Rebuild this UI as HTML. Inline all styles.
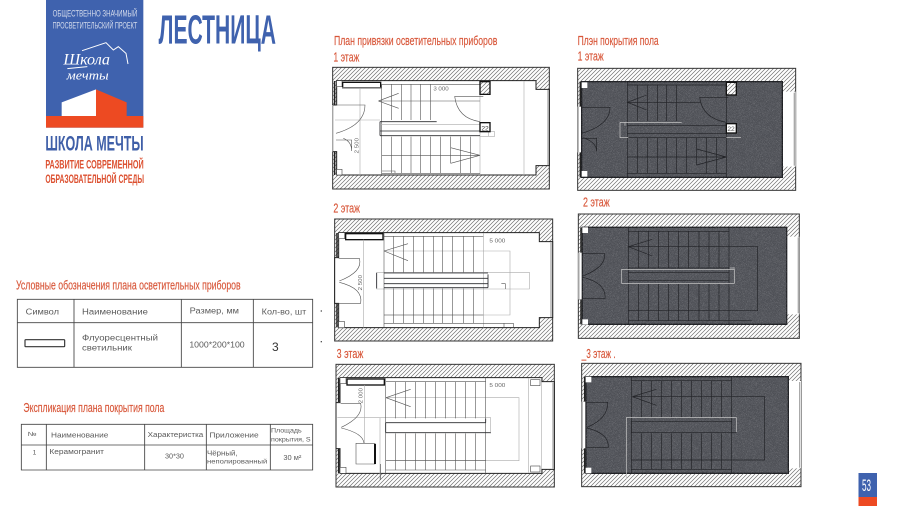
<!DOCTYPE html>
<html lang="ru">
<head>
<meta charset="utf-8">
<title>Лестница</title>
<style>
html,body{margin:0;padding:0;background:#fff;width:900px;height:506px;overflow:hidden}
svg{display:block;filter:blur(.3px)}
text{font-family:"Liberation Sans",sans-serif}
.o{fill:#d8573a;stroke:#d8573a;stroke-width:.5}
.t{fill:#5a5a5a}
.th{fill:none;stroke:#444;stroke-width:2.6}
.tn{fill:none;stroke:#555;stroke-width:1.8}
.g{fill:none;stroke:#aaa;stroke-width:1.8}
.d{fill:none;stroke:#2a2b2f;stroke-width:2.6}
.dk{fill:none;stroke:#222;stroke-width:4.5}
.w{fill:#fff;stroke:#444;stroke-width:1.8}
.fl{fill:none;stroke:#222327;stroke-width:2}
.fg{fill:none;stroke:#c4c4c4;stroke-width:2.2}
</style>
</head>
<body>
<svg width="900" height="506" viewBox="0 0 900 506" xmlns="http://www.w3.org/2000/svg">
<defs>
<pattern id="h" patternUnits="userSpaceOnUse" width="12" height="12">
<rect width="12" height="12" fill="#fff"/>
<path d="M-2,14 L14,-2 M-2,2 L2,-2 M10,14 L14,10" stroke="#6e6e6e" stroke-width="2"/>
</pattern>
<filter id="sp" x="0" y="0" width="100%" height="100%">
<feTurbulence type="fractalNoise" baseFrequency="1.1" numOctaves="2" seed="4"/>
<feColorMatrix values="0 0 0 0 .75 0 0 0 0 .75 0 0 0 0 .78 1.6 0 0 0 -.72"/>
</filter>
</defs>

<!-- logo -->
<g transform="scale(.33333)">
<rect x="138" y="0" width="292" height="383" fill="#3f62ae"/>
<text x="158" y="50" font-size="27" fill="#d5dcec" textLength="254" lengthAdjust="spacingAndGlyphs">ОБЩЕСТВЕННО ЗНАЧИМЫЙ</text>
<text x="158" y="86" font-size="27" fill="#d5dcec" textLength="254" lengthAdjust="spacingAndGlyphs">ПРОСВЕТИТЕЛЬСКИЙ ПРОЕКТ</text>
<text x="190" y="194" font-size="46" fill="#fff" font-style="italic" style="font-family:'Liberation Serif',serif" textLength="140" lengthAdjust="spacingAndGlyphs">Школа</text>
<text x="200" y="238" font-size="38" fill="#fff" font-style="italic" style="font-family:'Liberation Serif',serif" textLength="126" lengthAdjust="spacingAndGlyphs">мечты</text>
<path d="M246,152 L318,128 L340,150 L355,140 L378,160 L384,192" fill="none" stroke="#fff" stroke-width="3"/>
<path d="M202,206 L262,200" fill="none" stroke="#fff" stroke-width="3"/>
<path d="M185,307 L288,268 L288,348 L185,348Z" fill="#fff"/>
<path d="M288,268 L380,307 L380,348 L430,348 L430,383 L138,383 L138,348 L288,348Z" fill="#ed4a22"/>
<text x="136" y="452" font-size="64" font-weight="bold" fill="#3f5fa8" textLength="295" lengthAdjust="spacingAndGlyphs">ШКОЛА МЕЧТЫ</text>
<text x="136" y="506" font-size="35" font-weight="bold" fill="#dc5030" textLength="295" lengthAdjust="spacingAndGlyphs">РАЗВИТИЕ СОВРЕМЕННОЙ</text>
<text x="136" y="549" font-size="35" font-weight="bold" fill="#dc5030" textLength="296" lengthAdjust="spacingAndGlyphs">ОБРАЗОВАТЕЛЬНОЙ СРЕДЫ</text>
<text x="476" y="130" font-size="122" font-weight="bold" fill="#3f62ae" textLength="352" lengthAdjust="spacingAndGlyphs">ЛЕСТНИЦА</text>
</g>

<!-- plan 1 wire -->
<g transform="translate(320,25) scale(.33333)">
<text class="o" x="42" y="60" font-size="40" textLength="490" lengthAdjust="spacingAndGlyphs">План привязки осветительных приборов</text>
<text class="o" x="40" y="110" font-size="40" textLength="78" lengthAdjust="spacingAndGlyphs">1 этаж</text>
<rect x="38" y="127" width="650" height="365" fill="url(#h)" stroke="#333" stroke-width="3"/>
<path d="M50,167H648V193H688V422H648V450H50V380H38V240H50Z" fill="#fff" stroke="#222" stroke-width="3"/>
<path d="M38,240V380" stroke="#bbb" stroke-width="3"/>
<path d="M684,195V420" stroke="#aaa" stroke-width="4"/>
<path class="dk" d="M44,168V240M44,380V450"/>
<rect class="w" x="50" y="167" width="16" height="18"/><rect class="w" x="50" y="433" width="16" height="17"/>
<rect x="68" y="172" width="114" height="16" fill="#fff" stroke="#111" stroke-width="4"/>
<path class="g" d="M612,168V450M480,168V450M120,188V450M66,188H182M45,285H180"/>
<path class="tn" d="M185,178H480M215,178V285M244,178V285M273,178V285M302,178V285M331,178V285M185,178V450M175,228H480M175,228L236,205M175,228L236,250"/>
<path class="d" d="M180,290H350M180,318H480M180,332H480M180,290V332"/>
<path class="g" d="M185,298H480M480,320H524V334H480M505,320V334"/>
<path class="tn" d="M215,335V445M244,335V445M273,335V445M302,335V445M331,335V445M362,335V445M392,335V415M421,335V445M452,335V445M185,391H480M185,445H480M480,391L392,368M480,391L392,415M185,438H225V445"/>
<path class="tn" d="M404,214H490M404,214Q412,280 480,290M48,240H135Q135,300 48,325M48,345H95V378Q95,350 70,340"/>
<rect x="480" y="170" width="30" height="38" fill="url(#h)" stroke="#111" stroke-width="4"/>
<rect x="480" y="293" width="30" height="27" fill="#fff" stroke="#111" stroke-width="4"/>
<text x="484" y="316" font-size="20" fill="#333">22</text>
<text x="340" y="197" font-size="17" fill="#666" textLength="46" lengthAdjust="spacingAndGlyphs">3 000</text>
<text transform="translate(116,385) rotate(-90)" font-size="17" fill="#666" textLength="46" lengthAdjust="spacingAndGlyphs">2 500</text>
</g>

<!-- floor 1 -->
<g transform="translate(565,25) scale(.33333)">
<text class="o" x="38" y="60" font-size="40" textLength="243" lengthAdjust="spacingAndGlyphs">Плэн покрытия пола</text>
<text class="o" x="38" y="106" font-size="40" textLength="78" lengthAdjust="spacingAndGlyphs">1 этаж</text>
<rect x="38" y="130" width="654" height="366" fill="url(#h)" stroke="#333" stroke-width="3"/>
<path d="M652,200H692V425H652Z" fill="#fff"/><path d="M38,245H50V382H38Z" fill="#fff"/>
<path d="M40,245V382" stroke="#bbb" stroke-width="4"/><path d="M688,203V422" stroke="#aaa" stroke-width="4"/>
<path d="M50,170H652V457H50Z" fill="#4e5056" stroke="#1d1e22" stroke-width="4"/>
<rect x="50" y="170" width="602" height="287" filter="url(#sp)" opacity=".45"/>
<path class="dk" d="M46,170V245M46,382V457"/>
<rect x="50" y="172" width="17" height="17" fill="#fff"/><rect x="50" y="438" width="17" height="17" fill="#fff"/>
<path class="fl" d="M187,180H484M217,180V288M247,180V288M277,180V288M305,180V288M334,180V288M187,170V457M484,170V457M187,232H406M187,232L245,210M187,232L245,255"/>
<path class="fl" d="M187,302H484M187,326H484M187,338H484M217,338V445M247,338V445M277,338V445M305,338V445M334,338V445M365,338V445M395,338V420M424,338V445M455,338V445M187,396H484M484,396L395,372M484,396L395,420M187,445H484"/>
<path class="fl" d="M404,217H490M404,217Q412,280 484,292M50,247H135Q135,300 50,325M50,340H95V380Q95,352 55,338"/>
<path class="fg" d="M165,292V338H190M165,292H350M180,292V302M484,338H528"/>
<rect x="484" y="172" width="30" height="38" fill="url(#h)" stroke="#111" stroke-width="4"/>
<rect x="484" y="296" width="30" height="28" fill="#fff" stroke="#111" stroke-width="4"/>
<text x="487" y="318" font-size="20" fill="#555">22</text>
</g>

<!-- plan 2 wire -->
<g transform="translate(320,195) scale(.33333)">
<text class="o" x="40" y="52" font-size="40" textLength="80" lengthAdjust="spacingAndGlyphs">2 этаж</text>
<rect x="44" y="72" width="654" height="366" fill="url(#h)" stroke="#333" stroke-width="3"/>
<path d="M56,113H658V140H698V368H658V398H56V325H44V188H56Z" fill="#fff" stroke="#222" stroke-width="3"/>
<path d="M693,142V366" stroke="#aaa" stroke-width="4"/>
<path class="dk" d="M51,114V186M51,326V397"/>
<rect class="w" x="56" y="113" width="18" height="18"/><rect class="w" x="56" y="380" width="18" height="18"/>
<rect x="77" y="116" width="112" height="18" fill="#fff" stroke="#111" stroke-width="4"/>
<path class="g" d="M130,134V398M170,232H628V282H170Z M490,114V398M192,168H570V360H192"/>
<path class="tn" d="M192,124H490M192,114V398M220,124V232M250,124V232M280,124V232M310,124V232M340,124V232M368,124V232M398,124V232M430,124V232M460,124V232M192,168L264,146M192,168L264,197"/>
<path class="d" d="M192,234H504M192,250H504M192,266H504M192,278H504M170,234V280M504,238V278"/>
<path class="tn" d="M220,280V385M250,280V385M280,280V385M310,280V385M340,280V385M368,280V385M398,280V385M430,280V385M460,280V385M192,360H490M192,385H580V398M552,385V398M544,266H556V282"/>
<path class="tn" d="M56,190H118Q130,230 58,258M58,262Q130,280 122,325H56"/>
<text x="508" y="143" font-size="17" fill="#666" textLength="48" lengthAdjust="spacingAndGlyphs">5 000</text>
<text transform="translate(126,286) rotate(-90)" font-size="17" fill="#666" textLength="46" lengthAdjust="spacingAndGlyphs">2 500</text>
</g>

<!-- floor 2 -->
<g transform="translate(565,190) scale(.33333)">
<text class="o" x="54" y="50" font-size="40" textLength="80" lengthAdjust="spacingAndGlyphs">2 этаж</text>
<rect x="40" y="72" width="663" height="373" fill="url(#h)" stroke="#333" stroke-width="3"/>
<path d="M665,140H703V373H665Z" fill="#fff"/><path d="M40,188H52V328H40Z" fill="#fff"/>
<path d="M42,188V328" stroke="#bbb" stroke-width="4"/><path d="M700,142V370" stroke="#aaa" stroke-width="4"/>
<path d="M52,112H665V403H52Z" fill="#4e5056" stroke="#1d1e22" stroke-width="4"/>
<rect x="52" y="112" width="613" height="291" filter="url(#sp)" opacity=".45"/>
<path class="dk" d="M48,112V188M48,328V403"/>
<rect x="52" y="112" width="17" height="17" fill="#fff"/><rect x="52" y="388" width="17" height="16" fill="#fff"/>
<path class="fl" d="M190,124H492M190,112V403M492,112V403M220,124V234M250,124V234M280,124V234M310,124V234M340,124V234M370,124V234M402,124V234M432,124V234M462,124V234M190,170L262,148M190,170L262,198M190,170H578V362H190"/>
<path class="fl" d="M190,234H492M190,248H492M190,272H492M330,280H420M220,282V392M250,282V392M280,282V392M310,282V392M340,282V392M370,282V392M402,282V392M432,282V392M462,282V392M190,392H560"/>
<path class="fl" d="M52,190H118Q125,230 54,258M54,262Q125,280 120,326H52"/>
<path class="fg" d="M170,238H508V280H170ZM494,234H510"/>
</g>

<!-- plan 3 wire -->
<g transform="translate(320,340) scale(.33333)">
<text class="o" x="50" y="54" font-size="40" textLength="80" lengthAdjust="spacingAndGlyphs">3 этаж</text>
<rect x="48" y="73" width="655" height="368" fill="url(#h)" stroke="#333" stroke-width="3"/>
<path d="M60,113H666V125H703V388H666V400H60V326H48V188H60Z" fill="#fff" stroke="#222" stroke-width="3"/>
<path d="M699,128V386" stroke="#aaa" stroke-width="4"/>
<path class="dk" d="M56,114V186M56,326V399"/>
<rect class="w" x="60" y="113" width="18" height="18"/><rect class="w" x="60" y="382" width="18" height="18"/>
<rect x="81" y="117" width="112" height="18" fill="#fff" stroke="#111" stroke-width="4"/>
<path class="g" d="M134,135V310M52,233H512V280M180,233V420M197,173H597V362H197M626,115V398M664,115V398"/>
<rect class="w" x="632" y="119" width="28" height="18"/><rect class="w" x="632" y="378" width="28" height="18"/>
<path class="tn" d="M197,125H497M197,114V400M497,114V400M226,125V235M256,125V235M286,125V235M316,125V235M346,125V235M376,125V235M406,125V235M436,125V235M466,125V235M198,173L272,148M198,173L272,200"/>
<path class="d" d="M197,248H497M197,278H512M197,248V278M497,236V248"/>
<path class="tn" d="M226,280V390M256,280V390M286,280V390M316,280V390M346,280V390M376,280V390M406,280V390M436,280V390M466,280V390M197,362H497M197,390H497"/>
<path class="tn" d="M62,190H122Q132,230 64,262M64,264Q130,280 132,310M108,310H165V372H108ZM108,310V372"/>
<path d="M165,312V372" stroke="#111" stroke-width="6"/>
<path class="tn" d="M182,372V420"/>
<text x="508" y="141" font-size="17" fill="#666" textLength="48" lengthAdjust="spacingAndGlyphs">5 000</text>
<text transform="translate(128,190) rotate(-90)" font-size="17" fill="#666" textLength="46" lengthAdjust="spacingAndGlyphs">2 000</text>
</g>

<!-- floor 3 -->
<g transform="translate(565,340) scale(.33333)">
<text class="o" x="50" y="54" font-size="40" textLength="102" lengthAdjust="spacingAndGlyphs">_3 этаж .</text>
<rect x="50" y="70" width="658" height="370" fill="url(#h)" stroke="#333" stroke-width="3"/>
<path d="M670,123H708V385H670Z" fill="#fff"/><path d="M50,185H63V325H50Z" fill="#fff"/>
<path d="M52,185V325" stroke="#bbb" stroke-width="4"/><path d="M704,126V383" stroke="#aaa" stroke-width="4"/>
<path d="M63,110H670V400H63Z" fill="#4e5056" stroke="#1d1e22" stroke-width="4"/>
<rect x="63" y="110" width="607" height="290" filter="url(#sp)" opacity=".45"/>
<path class="dk" d="M59,110V185M59,325V400"/>
<rect x="62" y="110" width="17" height="17" fill="#fff"/><rect x="62" y="383" width="17" height="17" fill="#fff"/>
<path class="fl" d="M199,122H500M199,110V400M500,110V400M229,122V232M259,122V232M289,122V232M319,122V232M349,122V232M379,122V232M409,122V232M439,122V232M469,122V232M202,170L274,148M202,170L274,196M202,170H599V360H199"/>
<path class="fl" d="M199,245H500M199,278H514M199,245V278M229,280V388M259,280V388M289,280V388M319,280V388M349,280V388M379,280V388M409,280V388M439,280V388M469,280V388M199,388H500"/>
<path class="fl" d="M65,187H128Q130,235 66,262M66,264Q132,280 130,322H65"/>
<path class="fg" d="M184,418V233H514V276"/>
</g>

<!-- legend tables -->
<g transform="translate(0,270) scale(.33333)">
<text class="o" x="48" y="58" font-size="40" textLength="674" lengthAdjust="spacingAndGlyphs">Условные обозначения плана осветительных приборов</text>
<path class="th" d="M52,88H938V292H52ZM52,158H938M222,88V292M544,88V292M760,88V292"/>
<text class="t" x="77" y="133" font-size="24" textLength="100" lengthAdjust="spacingAndGlyphs">Символ</text>
<text class="t" x="246" y="133" font-size="24" textLength="198" lengthAdjust="spacingAndGlyphs">Наименование</text>
<text class="t" x="569" y="131" font-size="24" textLength="148" lengthAdjust="spacingAndGlyphs">Размер, мм</text>
<text class="t" x="785" y="133" font-size="24" textLength="134" lengthAdjust="spacingAndGlyphs">Кол-во, шт</text>
<rect x="75" y="209" width="119" height="21" fill="#fff" stroke="#333" stroke-width="3.5" rx="2"/>
<text class="t" x="246" y="211" font-size="24" textLength="228" lengthAdjust="spacingAndGlyphs">Флуоресцентный</text>
<text class="t" x="246" y="242" font-size="24" textLength="150" lengthAdjust="spacingAndGlyphs">светильник</text>
<text class="t" x="568" y="233" font-size="25" textLength="166" lengthAdjust="spacingAndGlyphs">1000*200*100</text>
<text x="816" y="243" font-size="36" fill="#333">3</text>
<rect x="962" y="121" width="4" height="4" fill="#555"/><rect x="962" y="213" width="4" height="4" fill="#555"/>
<text class="o" x="70" y="426" font-size="40" textLength="423" lengthAdjust="spacingAndGlyphs">Экспликация плана покрытия пола</text>
<path class="th" d="M64,463H938V600H64ZM64,525H938M139,463V600M434,463V600M619,463V600M811,463V600"/>
<text class="t" x="83" y="498" font-size="18" textLength="27" lengthAdjust="spacingAndGlyphs">№</text>
<text class="t" x="153" y="503" font-size="21" textLength="172" lengthAdjust="spacingAndGlyphs">Наименование</text>
<text class="t" x="443" y="501" font-size="22" textLength="167" lengthAdjust="spacingAndGlyphs">Характеристка</text>
<text class="t" x="628" y="503" font-size="21" textLength="148" lengthAdjust="spacingAndGlyphs">Приложение</text>
<text class="t" x="813" y="487" font-size="19" textLength="92" lengthAdjust="spacingAndGlyphs">Площадь</text>
<text class="t" x="813" y="514" font-size="19" textLength="119" lengthAdjust="spacingAndGlyphs">покрытия, S</text>
<text class="t" x="98" y="554" font-size="20">1</text>
<text class="t" x="148" y="552" font-size="21" textLength="164" lengthAdjust="spacingAndGlyphs">Керамогранит</text>
<text class="t" x="495" y="566" font-size="21" textLength="57" lengthAdjust="spacingAndGlyphs">30*30</text>
<text class="t" x="621" y="557" font-size="21" textLength="92" lengthAdjust="spacingAndGlyphs">Чёрный,</text>
<text class="t" x="621" y="580" font-size="20" textLength="181" lengthAdjust="spacingAndGlyphs">неполированный</text>
<text class="t" x="850" y="570" font-size="21" textLength="54" lengthAdjust="spacingAndGlyphs">30 м²</text>
</g>

<!-- page number -->
<rect x="858.5" y="473" width="18.5" height="24" fill="#3f62ae"/>
<rect x="858.5" y="497" width="18.5" height="9" fill="#ed4a22"/>
<text x="862" y="491" font-size="17" fill="#fff" textLength="9" lengthAdjust="spacingAndGlyphs">53</text>
</svg>
</body>
</html>
